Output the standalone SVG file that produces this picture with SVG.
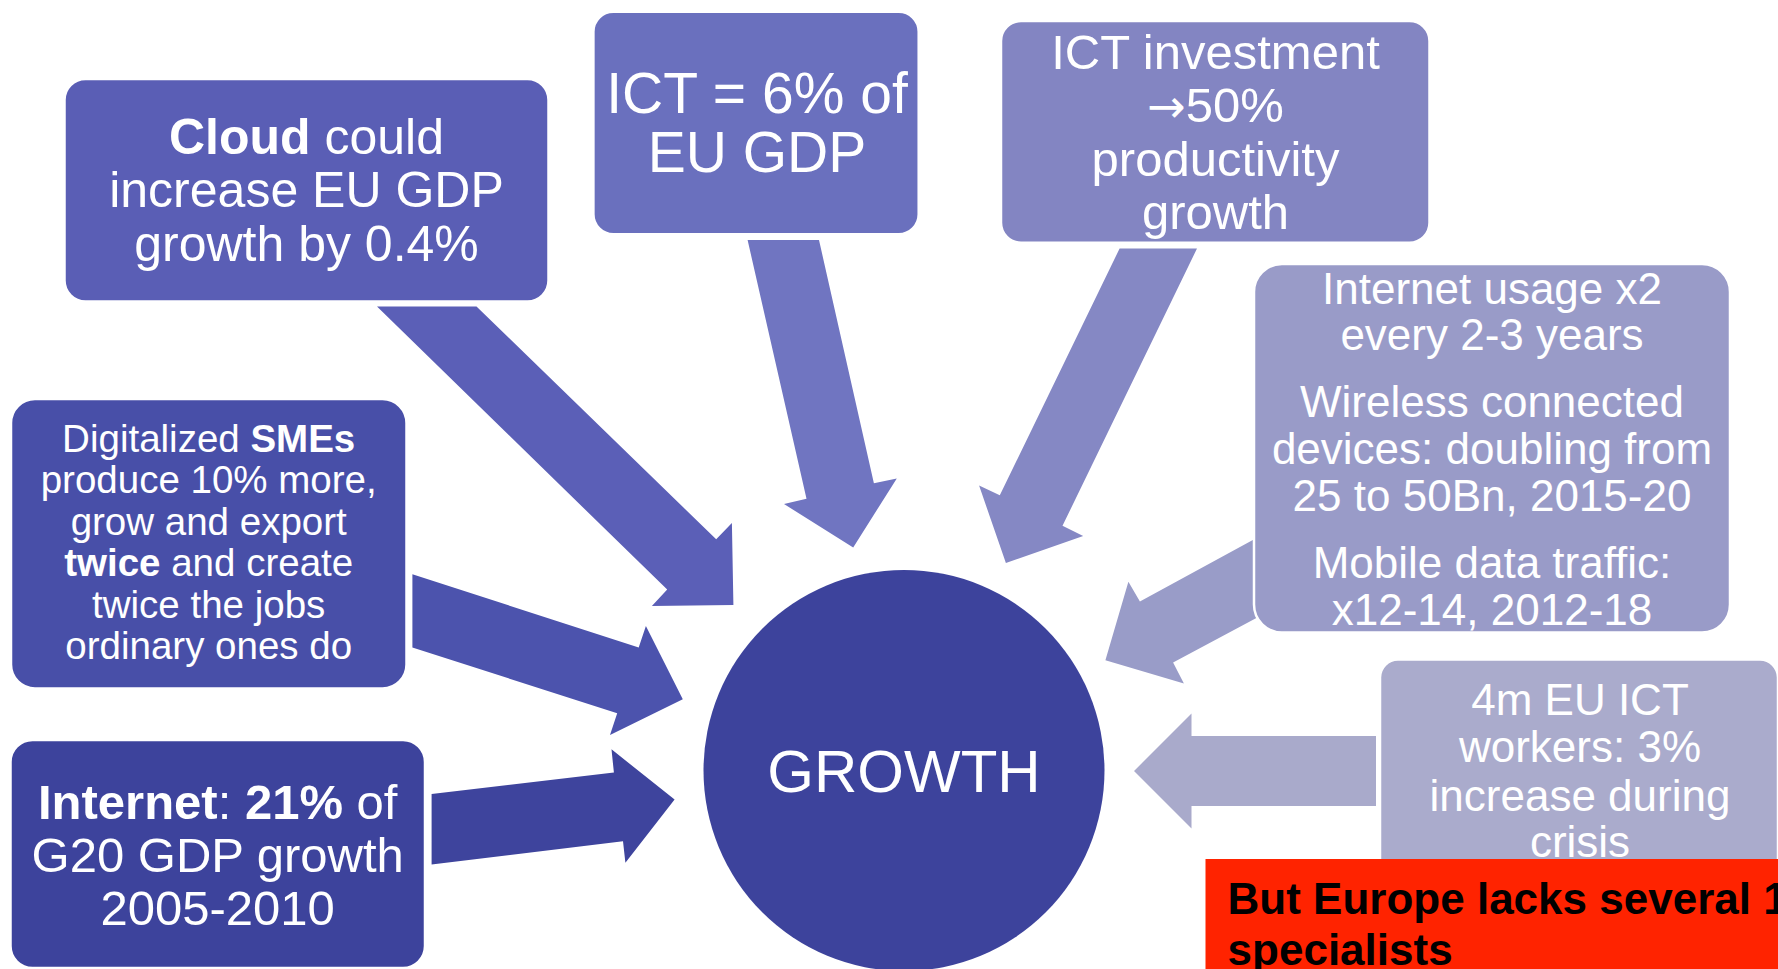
<svg xmlns="http://www.w3.org/2000/svg" width="1778" height="969" viewBox="0 0 1778 969">
<style>
.t{font-family:"Liberation Sans",Arial,sans-serif;fill:#fff;text-anchor:middle}
.b{font-weight:bold}
.box{stroke:#fff;stroke-width:2.5}
</style>
<rect width="1778" height="969" fill="#fff"/>
<g id="connectors">
<polygon fill="#5B5FB7" points="377,306.5 476.5,306.5 716.2,539.3 731.9,523.1 733.4,605 651.9,606.1 667.2,589.6"/>
<polygon fill="#7075C1" points="747.6,240 819,240 873.9,483.3 896.8,478.4 853.2,547.5 784,504 806.5,498.7"/>
<polygon fill="#8588C4" points="1119.6,248.5 1197,248.5 1062.5,525.8 1083.2,535.9 1005.9,563 979.1,485.6 999.8,495.3"/>
<polygon fill="#999CC8" points="1262,535 1262,615 1173.1,662.5 1183.9,683.5 1105.4,660.2 1128.4,581.7 1139.9,601.6"/>
<polygon fill="#A9AACB" points="1376,736 1376,806 1191.5,806 1191.5,828.5 1134,771 1191.5,713.5 1191.5,736"/>
<polygon fill="#4C53AD" points="412.4,574.2 638.7,647.5 645.9,626 682.8,699.3 610,735 617.2,713.2 412.4,647.5"/>
<polygon fill="#3E449D" points="431.6,794 613.9,772.6 611.5,749.3 674.6,799.6 625.4,862.7 623,841.3 431.6,864.6"/>
</g>
<g id="cloud">
<rect class="box" x="64.5" y="79" width="484" height="222.5" rx="21" fill="#5A5EB5"/>
<text class="t" x="306.5" font-size="50"><tspan x="306.5" y="154"><tspan class="b">Cloud</tspan> could</tspan><tspan x="306.5" y="207">increase EU GDP</tspan><tspan x="306.5" y="261">growth by 0.4%</tspan></text>
</g>
<g id="ict-gdp">
<rect class="box" x="593.4" y="11.7" width="325.3" height="222.6" rx="20" fill="#6A70BE"/>
<text class="t" font-size="57"><tspan x="757" y="113">ICT = 6% of</tspan><tspan x="757" y="172">EU GDP</tspan></text>
</g>
<g id="ict-investment">
<rect class="box" x="1001" y="21" width="428.5" height="221.7" rx="20" fill="#8385C2"/>
<text class="t" font-size="49"><tspan x="1215.5" y="69">ICT investment</tspan><tspan x="1215.5" y="122"><tspan font-family="'DejaVu Sans',sans-serif" font-size="46">→</tspan>50%</tspan><tspan x="1215.5" y="176">productivity</tspan><tspan x="1215.5" y="229">growth</tspan></text>
</g>
<g id="internet-usage">
<rect class="box" x="1254" y="264" width="476" height="368.5" rx="28" fill="#999BC8"/>
<text class="t" font-size="44"><tspan x="1492" y="304">Internet usage x2</tspan><tspan x="1492" y="350">every 2-3 years</tspan><tspan x="1492" y="417">Wireless connected</tspan><tspan x="1492" y="464">devices: doubling from</tspan><tspan x="1492" y="511">25 to 50Bn, 2015-20</tspan><tspan x="1492" y="578">Mobile data traffic:</tspan><tspan x="1492" y="625">x12-14, 2012-18</tspan></text>
</g>
<g id="ict-workers">
<rect class="box" x="1380" y="659.5" width="398" height="330" rx="18" fill="#AAABCC"/>
<text class="t" font-size="44"><tspan x="1580" y="715">4m EU ICT</tspan><tspan x="1580" y="762">workers: 3%</tspan><tspan x="1580" y="811">increase during</tspan><tspan x="1580" y="857">crisis</tspan></text>
</g>
<g id="smes">
<rect class="box" x="11" y="399" width="395.5" height="289.5" rx="24" fill="#484FA8"/>
<text class="t" font-size="38.5"><tspan x="208.7" y="451.5">Digitalized <tspan class="b">SMEs</tspan></tspan><tspan x="208.7" y="493">produce 10% more,</tspan><tspan x="208.7" y="534.5">grow and export</tspan><tspan x="208.7" y="576"><tspan class="b">twice</tspan> and create</tspan><tspan x="208.7" y="617.5">twice the jobs</tspan><tspan x="208.7" y="659">ordinary ones do</tspan></text>
</g>
<g id="internet">
<rect class="box" x="10.5" y="740" width="414.5" height="228" rx="22" fill="#3D439C"/>
<text class="t" font-size="49"><tspan x="217.7" y="819"><tspan class="b">Internet</tspan>: <tspan class="b">21%</tspan> of</tspan><tspan x="217.7" y="872">G20 GDP growth</tspan><tspan x="217.7" y="925">2005-2010</tspan></text>
</g>
<g id="growth">
<circle cx="904" cy="770.5" r="200.5" fill="#3D439C"/>
<text class="t" x="904" y="792" font-size="60">GROWTH</text>
</g>
<g id="note">
<rect x="1205.5" y="859" width="580" height="120" fill="#FF2300"/>
<text font-family="'Liberation Sans',Arial,sans-serif" font-weight="bold" font-size="44" fill="#000"><tspan x="1227.6" y="914">But Europe lacks several 1</tspan><tspan x="1227.6" y="965">specialists</tspan></text>
</g>
</svg>
